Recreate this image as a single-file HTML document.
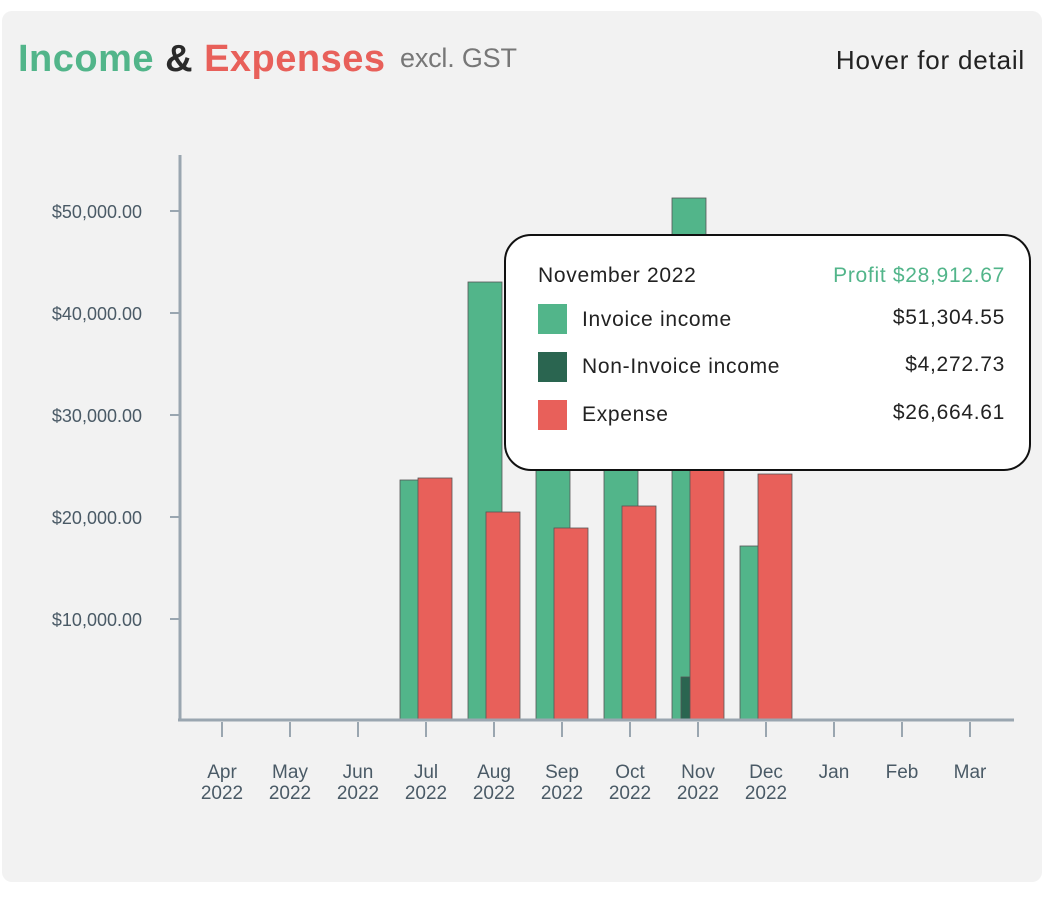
<!DOCTYPE html>
<html><head><style>
body{margin:0;background:#fff;width:1054px;height:894px;overflow:hidden;font-family:"Liberation Sans",sans-serif}
</style></head><body>
<svg width="1054" height="894" xmlns="http://www.w3.org/2000/svg" font-family="Liberation Sans, sans-serif">
<rect x="2" y="11" width="1040" height="871" rx="10" fill="#f2f2f2"/>
<text x="18" y="71" font-size="38" font-weight="bold" textLength="367" lengthAdjust="spacing"><tspan fill="#52b58a">Income</tspan><tspan fill="#2a2a2a"> &amp; </tspan><tspan fill="#e8605a">Expenses</tspan></text>
<text x="400" y="67" font-size="27" fill="#777" textLength="117" lengthAdjust="spacing">excl. GST</text>
<text x="1025" y="69" font-size="26" fill="#222" text-anchor="end" letter-spacing="0.8">Hover for detail</text>
<g font-size="18" fill="#4a5a66" text-anchor="end">
<text x="142" y="218">$50,000.00</text><text x="142" y="320">$40,000.00</text><text x="142" y="422">$30,000.00</text><text x="142" y="524">$20,000.00</text><text x="142" y="626">$10,000.00</text>
</g>
<g stroke="#9aa6b0" stroke-width="2">
<line x1="170" y1="211" x2="180" y2="211"/><line x1="170" y1="313" x2="180" y2="313"/><line x1="170" y1="415" x2="180" y2="415"/><line x1="170" y1="517" x2="180" y2="517"/><line x1="170" y1="619" x2="180" y2="619"/>
</g>
<g stroke="#555" stroke-width="0.8">
<rect x="400" y="480" width="34" height="240" fill="#52b58a"/><rect x="418" y="478" width="34" height="242" fill="#e8605a"/>
<rect x="468" y="282" width="34" height="438" fill="#52b58a"/><rect x="486" y="512" width="34" height="208" fill="#e8605a"/>
<rect x="536" y="400" width="34" height="320" fill="#52b58a"/><rect x="554" y="528" width="34" height="192" fill="#e8605a"/>
<rect x="604" y="400" width="34" height="320" fill="#52b58a"/><rect x="622" y="506" width="34" height="214" fill="#e8605a"/>
<rect x="672" y="198" width="34" height="522" fill="#52b58a"/><rect x="681" y="677" width="9" height="43" fill="#2a6550"/><rect x="690" y="449" width="34" height="271" fill="#e8605a"/>
<rect x="740" y="546" width="34" height="174" fill="#52b58a"/><rect x="758" y="474" width="34" height="246" fill="#e8605a"/>
</g>
<g stroke="#9aa6b0" stroke-width="3">
<line x1="180" y1="155" x2="180" y2="721"/><line x1="178" y1="720" x2="1014" y2="720"/>
</g>
<g stroke="#9aa6b0" stroke-width="2">
<line x1="222" y1="722" x2="222" y2="737"/><line x1="290" y1="722" x2="290" y2="737"/><line x1="358" y1="722" x2="358" y2="737"/><line x1="426" y1="722" x2="426" y2="737"/><line x1="494" y1="722" x2="494" y2="737"/><line x1="562" y1="722" x2="562" y2="737"/><line x1="630" y1="722" x2="630" y2="737"/><line x1="698" y1="722" x2="698" y2="737"/><line x1="766" y1="722" x2="766" y2="737"/><line x1="834" y1="722" x2="834" y2="737"/><line x1="902" y1="722" x2="902" y2="737"/><line x1="970" y1="722" x2="970" y2="737"/>
</g>
<g font-size="19" fill="#4a5a66" text-anchor="middle">
<text x="222" y="778">Apr</text><text x="222" y="799">2022</text>
<text x="290" y="778">May</text><text x="290" y="799">2022</text>
<text x="358" y="778">Jun</text><text x="358" y="799">2022</text>
<text x="426" y="778">Jul</text><text x="426" y="799">2022</text>
<text x="494" y="778">Aug</text><text x="494" y="799">2022</text>
<text x="562" y="778">Sep</text><text x="562" y="799">2022</text>
<text x="630" y="778">Oct</text><text x="630" y="799">2022</text>
<text x="698" y="778">Nov</text><text x="698" y="799">2022</text>
<text x="766" y="778">Dec</text><text x="766" y="799">2022</text>
<text x="834" y="778">Jan</text><text x="902" y="778">Feb</text><text x="970" y="778">Mar</text>
</g>
<rect x="505" y="235" width="525" height="235" rx="26" fill="#fff" stroke="#111" stroke-width="2"/>
<g font-size="21" letter-spacing="0.7">
<text x="538" y="282" fill="#222">November 2022</text>
<text x="1005" y="282" fill="#52b58a" text-anchor="end">Profit $28,912.67</text>
<rect x="538" y="304" width="29" height="30" fill="#52b58a"/>
<text x="582" y="326" fill="#222">Invoice income</text><text x="1005" y="324" fill="#222" text-anchor="end">$51,304.55</text>
<rect x="538" y="352" width="29" height="30" fill="#2a6550"/>
<text x="582" y="373" fill="#222">Non-Invoice income</text><text x="1005" y="371" fill="#222" text-anchor="end">$4,272.73</text>
<rect x="538" y="400" width="29" height="30" fill="#e8605a"/>
<text x="582" y="421" fill="#222">Expense</text><text x="1005" y="419" fill="#222" text-anchor="end">$26,664.61</text>
</g>
</svg>
</body></html>
